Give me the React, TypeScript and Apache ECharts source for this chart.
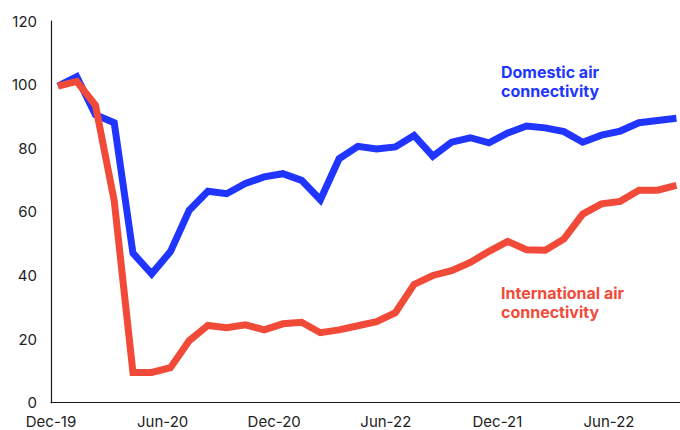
import React, { useEffect, useRef } from "react";
import * as echarts from "echarts";

const months = [
  "Dec-19", "Jan-20", "Feb-20", "Mar-20", "Apr-20", "May-20", "Jun-20", "Jul-20", "Aug-20",
  "Sep-20", "Oct-20", "Nov-20", "Dec-20", "Jan-21", "Feb-21", "Mar-21", "Apr-21", "May-21",
  "Jun-21", "Jul-21", "Aug-21", "Sep-21", "Oct-21", "Nov-21", "Dec-21", "Jan-22", "Feb-22",
  "Mar-22", "Apr-22", "May-22", "Jun-22", "Jul-22", "Aug-22", "Sep-22",
];

const domestic = [
  99.5, 102.5, 90.5, 88, 47, 40.5, 47.5, 60.5, 66.5, 65.7, 68.9, 71, 72, 69.9, 63.8, 76.7, 80.6,
  79.8, 80.4, 84, 77.5, 81.9, 83.3, 81.7, 84.8, 87, 86.4, 85.2, 81.9, 84.1, 85.4, 88, 88.7, 89.4,
];

const international = [
  99.5, 101, 93.5, 63.5, 9.5, 9.5, 11, 19.5, 24.3, 23.6, 24.5, 22.9, 24.8, 25.3, 22, 22.9, 24.2,
  25.5, 28.3, 37.2, 40, 41.5, 44.1, 47.6, 50.7, 48.1, 47.9, 51.5, 59.3, 62.5, 63.3, 66.8, 66.8, 68.3,
];

const tickLabels = ["Dec-19", "Jun-20", "Dec-20", "Jun-22", "Dec-21", "Jun-22"];

const yTicks = { min: 0, max: 120, interval: 20 };

const BLUE = "#2035FF";
const RED = "#F24A38";
const FONT = "Inter, 'Liberation Sans', Arial, sans-serif";

export default function App() {
  const ref = useRef<HTMLDivElement>(null);

  useEffect(() => {
    if (!ref.current) return;
    const chart = echarts.init(ref.current, undefined, { renderer: "svg" });
    const dataXMin = -0.3735;
    const dataXMax = months.length - 1 + 0.19;
    chart.setOption({
      animation: false,
      backgroundColor: "#ffffff",
      grid: { left: 51, right: 0, top: 21, bottom: 27.3, containLabel: false },
      xAxis: [
        {
          type: "value",
          min: dataXMin,
          max: dataXMax,
          axisLine: { show: true, onZero: false, lineStyle: { color: "#1a1a1a", width: 1.2 } },
          axisTick: { show: false },
          axisLabel: { show: false },
          splitLine: { show: false },
        },
        {
          type: "value",
          position: "bottom",
          min: 0,
          max: 629 / 111.6,
          interval: 1,
          axisLine: { show: false, onZero: false },
          axisTick: { show: false },
          splitLine: { show: false },
          axisLabel: {
            show: true,
            margin: 11,
            color: "#222222",
            fontSize: 15,
            fontFamily: FONT,
            showMaxLabel: false,
            formatter: (v: number) => {
              const k = Math.round(v);
              if (Math.abs(v - k) > 1e-6) return "";
              return tickLabels[k] ?? "";
            },
          },
        },
      ],
      yAxis: {
        type: "value",
        min: yTicks.min,
        max: yTicks.max,
        interval: yTicks.interval,
        axisLine: { show: true, onZero: false, lineStyle: { color: "#1a1a1a", width: 1.2 } },
        axisTick: { show: false },
        splitLine: { show: false },
        axisLabel: { color: "#222222", fontSize: 15, fontFamily: FONT, margin: 14 },
      },
      series: [
        {
          name: "Domestic air connectivity",
          type: "line",
          xAxisIndex: 0,
          data: domestic.map((v, i) => [i, v]),
          showSymbol: false,
          symbol: "none",
          lineStyle: { color: BLUE, width: 7, join: "miter" },
        },
        {
          name: "International air connectivity",
          type: "line",
          xAxisIndex: 0,
          data: international.map((v, i) => [i, v]),
          showSymbol: false,
          symbol: "none",
          lineStyle: { color: RED, width: 7, join: "miter" },
        },
      ],
      graphic: [
        {
          type: "text",
          left: 501,
          top: 62,
          style: {
            text: "Domestic air\nconnectivity",
            fill: BLUE,
            font: `bold 16px ${FONT}`,
            lineHeight: 19,
          },
        },
        {
          type: "text",
          left: 501,
          top: 283,
          style: {
            text: "International air\nconnectivity",
            fill: RED,
            font: `bold 16px ${FONT}`,
            lineHeight: 19,
          },
        },
      ],
    });
    return () => chart.dispose();
  }, []);

  return (
    <div
      ref={ref}
      style={{ position: "fixed", left: 0, top: 0, width: 680, height: 430, background: "#fff" }}
    />
  );
}
